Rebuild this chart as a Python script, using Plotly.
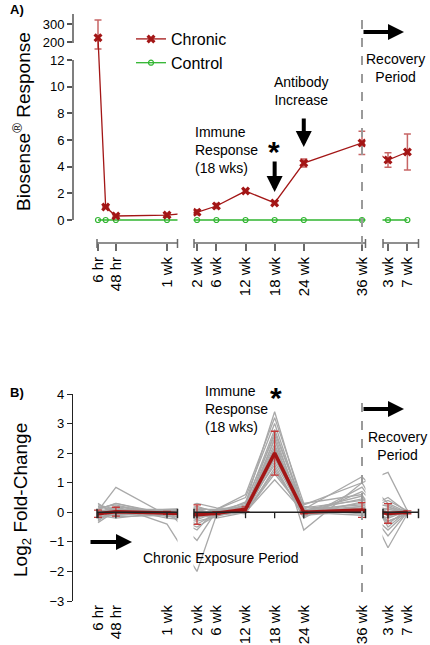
import plotly.graph_objects as go

# ---------------- data ----------------
TIME_LABELS = ["6 hr", "24 hr", "48 hr", "1 wk", "2 wk", "6 wk", "12 wk", "18 wk", "24 wk", "36 wk", "3 wk", "7 wk"]
TIME_PHASE = ["hours", "hours", "hours", "hours", "weeks", "weeks", "weeks", "weeks", "weeks", "weeks", "recovery", "recovery"]
TIME_VALUE = [6, 24, 48, 168, 2, 6, 12, 18, 24, 36, 3, 7]
TICK_LABELS = ["6 hr", "48 hr", "1 wk", "2 wk", "6 wk", "12 wk", "18 wk", "24 wk", "36 wk", "3 wk", "7 wk"]

CHRONIC_MEAN = [224, 0.97, 0.30, 0.37, 0.58, 1.05, 2.17, 1.28, 4.27, 5.78, 4.50, 5.10]
CHRONIC_SE = [98, 0.06, 0.06, 0.08, 0.18, 0.18, 0.10, 0.10, 0.30, 0.87, 0.55, 1.35]
CONTROL_MEAN = [0, 0, 0, 0, 0, 0, 0, 0, 0, 0, 0, 0]

# panel B: time points (no 24 hr)
GENE_LABELS = ["6 hr", "48 hr", "1 wk", "2 wk", "6 wk", "12 wk", "18 wk", "24 wk", "36 wk", "3 wk", "7 wk"]
GENE_PROFILES = [
    [0.05, 0.84, -0.10, 0.00, 0.05, 0.20, 2.10, 0.05, 0.30, 0.10, 0.00],
    [-0.30, 0.20, -0.40, -2.00, -0.10, 0.10, 1.80, 0.00, 0.10, -0.20, 0.05],
    [0.25, 0.10, 0.05, -0.95, 0.05, 0.30, 3.40, 0.10, 1.20, 0.30, 0.00],
    [-0.10, -0.20, 0.00, 0.20, 0.00, 0.05, 2.50, -0.60, 1.00, 1.35, 0.05],
    [0.10, 0.30, -0.05, -0.60, 0.10, 0.60, 3.20, 0.30, 0.60, -1.20, -0.05],
    [-0.20, 0.00, 0.10, 0.10, -0.05, 0.00, 1.10, 0.00, -0.10, 0.00, 0.00],
    [0.00, 0.15, -0.20, -0.30, -0.15, 0.15, 1.60, -0.20, 0.85, -0.40, 0.10],
    [-0.35, 0.05, 0.00, 0.30, 0.15, 0.10, 2.70, 0.15, 0.40, 0.20, -0.10],
    [0.30, -0.10, 0.05, -0.10, -0.20, 0.00, 1.30, 0.05, 0.20, -0.60, 0.00],
    [0.00, 0.20, -0.10, 0.05, 0.00, 0.20, 2.30, -0.10, 0.05, 0.40, 0.05],
    [-0.15, -0.10, 0.00, -0.20, 0.10, 0.50, 3.00, 0.05, 0.55, -0.30, -0.05],
    [0.10, 0.00, -0.05, -0.40, -0.05, 0.05, 1.90, 0.20, 0.00, 0.10, 0.00],
    [-0.05, 0.10, 0.10, 0.15, 0.05, -0.05, 1.50, -0.15, 0.70, -0.15, 0.10],
    [0.15, 0.25, -0.15, -0.15, -0.10, 0.10, 2.00, 0.00, 0.15, 0.25, -0.05],
    [-0.25, 0.00, 0.00, 0.00, 0.00, 0.25, 2.80, 0.10, 0.25, -0.10, 0.00],
    [0.05, -0.15, -0.10, -0.50, -0.10, 0.00, 1.70, -0.05, 0.05, 0.50, 0.00],
    [0.20, 0.05, 0.05, 0.10, 0.10, 0.15, 2.20, 0.25, 1.00, -0.50, 0.05],
    [-0.10, 0.20, 0.00, -0.25, 0.00, 0.00, 1.40, 0.00, 0.10, 0.00, -0.10],
    [0.00, -0.05, -0.05, 0.05, -0.05, 0.35, 2.60, -0.10, 0.35, -0.80, 0.00],
    [-0.05, 0.10, 0.05, -0.10, 0.05, 0.05, 1.85, 0.10, -0.05, 0.15, 0.05],
    [0.10, 0.30, -0.10, 0.00, -0.05, 0.10, 2.45, 0.05, 0.45, 0.00, 0.00],
    [-0.20, -0.05, 0.00, -0.05, 0.00, 0.20, 2.15, -0.05, 0.20, -0.30, -0.05],
]
GENE_MEAN = [-0.05, 0.02, -0.02, -0.08, -0.03, 0.10, 2.00, 0.00, 0.08, -0.04, 0.00]
GENE_SE = [0.12, 0.15, 0.05, 0.33, 0.05, 0.08, 0.74, 0.05, 0.25, 0.33, 0.05]

# ---------------- broken-axis scales (layout) ----------------
W, H = 430, 645
ML, MR, MT, MB = 73, 10, 10, 44
PW, PH = W - ML - MR, H - MT - MB


def xpos(phase, t):
    if phase == "hours":
        return 98 + 0.426 * (t - 6)
    if phase == "weeks":
        return 197 + 4.853 * (t - 2)
    return 388 + 4.85 * (t - 3)


def ybreak(v):
    if v <= 12:
        return v
    if v < 200:
        return 12 + (v - 12) / 188 * 1.35
    return 13.35 + (v - 200) * 0.0135


def py(p):
    return (H - MB - p) / PH


def pxp(p):
    return (p - ML) / PW


label_to_x = {lab: xpos(ph, t) for lab, ph, t in zip(TIME_LABELS, TIME_PHASE, TIME_VALUE)}
X_ALL = [label_to_x[l] for l in TIME_LABELS]
X_TICKS = [label_to_x[l] for l in TICK_LABELS]
X_GENE = [label_to_x[l] for l in GENE_LABELS]

SEGMENTS = [(97, 177.5), (194, 365.5), (383, 418.5)]
GAPS = [(177.5, 193.5), (365.5, 382.5)]

FONT = "Liberation Sans, Arial, sans-serif"
DARKRED = "#a31616"

fig = go.Figure()

# ---- Panel A ----
y_t = [ybreak(v) for v in CHRONIC_MEAN]
err_up = [ybreak(m + s) - ybreak(m) for m, s in zip(CHRONIC_MEAN, CHRONIC_SE)]
err_dn = [ybreak(m) - ybreak(m - s) for m, s in zip(CHRONIC_MEAN, CHRONIC_SE)]

fig.add_trace(go.Scatter(
    x=X_ALL, y=CONTROL_MEAN, mode="lines+markers", name="Control",
    line=dict(color="#2fb52f", width=1.3),
    marker=dict(symbol="circle-open", size=5, color="#2fb52f", line=dict(width=1.2)),
    xaxis="x", yaxis="y", legendrank=2, cliponaxis=False))
fig.add_trace(go.Scatter(
    x=X_ALL, y=y_t, mode="lines+markers", name="Chronic",
    line=dict(color=DARKRED, width=1.3),
    marker=dict(symbol="x", size=8, color=DARKRED),
    error_y=dict(type="data", symmetric=False, array=err_up, arrayminus=err_dn,
                 color="rgba(180,50,50,0.75)", thickness=1.5, width=3.5),
    xaxis="x", yaxis="y", legendrank=1, cliponaxis=False))

# ---- Panel B ----
for prof in GENE_PROFILES:
    fig.add_trace(go.Scatter(
        x=X_GENE, y=prof, mode="lines", showlegend=False,
        line=dict(color="#a9a9a9", width=1.3), hoverinfo="skip",
        xaxis="x2", yaxis="y2"))
fig.add_trace(go.Scatter(
    x=X_GENE, y=GENE_MEAN, mode="lines", showlegend=False,
    line=dict(color=DARKRED, width=3.5),
    error_y=dict(type="data", array=GENE_SE, color="#c43a3a", thickness=1.3, width=4),
    xaxis="x2", yaxis="y2"))

shapes = []
# white gap covers (axis breaks)
for g0, g1 in GAPS:
    for yr in ("y domain", "y2 domain"):
        xr = "x" if yr == "y domain" else "x2"
        shapes.append(dict(type="rect", xref=xr, yref=yr, x0=g0, x1=g1, y0=0, y1=1.02,
                           fillcolor="white", line=dict(width=0), layer="above"))

# top x-axis segments + caps
AX_GRAY = "#6a6a6a"
top_h = (243 - 10)
for s0, s1 in SEGMENTS:
    shapes.append(dict(type="line", xref="x", yref="y domain", x0=s0, x1=s1, y0=0, y1=0,
                       line=dict(color=AX_GRAY, width=1.5), layer="above"))
    for xe in (s0, s1):
        shapes.append(dict(type="line", xref="x", yref="y domain", x0=xe, x1=xe,
                           y0=4 / top_h, y1=-5 / top_h, line=dict(color=AX_GRAY, width=1.5), layer="above"))

# top y-axis (broken)
shapes.append(dict(type="line", xref="paper", yref="y", x0=0, x1=0, y0=0, y1=12,
                   line=dict(color="#555", width=1.5)))
shapes.append(dict(type="line", xref="paper", yref="y", x0=0, x1=0, y0=ybreak(200) - 0.07, y1=15.45,
                   line=dict(color="#555", width=1.5)))

# bottom zero axis segments + ticks
for s0, s1 in SEGMENTS:
    shapes.append(dict(type="line", xref="x2", yref="y2", x0=s0, x1=s1, y0=0, y1=0,
                       line=dict(color="#222", width=1.5), layer="above"))
    for xe in (s0, s1):
        shapes.append(dict(type="line", xref="x2", yref="y2", x0=xe, x1=xe, y0=0.12, y1=-0.2,
                           line=dict(color="#222", width=1.5), layer="above"))
for xt in X_TICKS:
    shapes.append(dict(type="line", xref="x2", yref="y2", x0=xt, x1=xt, y0=0, y1=-0.2,
                       line=dict(color="#222", width=1.3), layer="above"))

# dashed recovery lines at 36 wk
x36 = label_to_x["36 wk"]
shapes.append(dict(type="line", xref="x", yref="paper", x0=x36, x1=x36, y0=py(245), y1=py(12),
                   line=dict(color="#9a9a9a", width=2, dash="dash"), layer="above"))
shapes.append(dict(type="line", xref="x2", yref="paper", x0=x36, x1=x36, y0=py(592), y1=py(397),
                   line=dict(color="#9a9a9a", width=2, dash="dash"), layer="above"))

ann = []


def text(x, y, t, size=14, xanchor="center", align="center", angle=0, xref="x"):
    ann.append(dict(x=x, y=py(y), xref=xref, yref="paper", text=t, showarrow=False,
                    xanchor=xanchor, yanchor="middle", align=align, textangle=angle,
                    font=dict(family=FONT, size=size, color="black")))


def arrow(x, y, ax, ay):
    ann.append(dict(x=x, y=py(y), xref="x", yref="paper", ax=ax, ay=ay, text="",
                    showarrow=True, arrowhead=2, arrowsize=0.8, arrowwidth=4, arrowcolor="black"))


text(pxp(8), 9, "<b>A)</b>", size=13, xanchor="left", xref="paper")
text(pxp(8), 392, "<b>B)</b>", size=13, xanchor="left", xref="paper")
text(pxp(22), 122, "Biosense<sup>®</sup> Response", size=19, angle=-90, xref="paper")
text(pxp(22), 500, "Log<sub>2</sub> Fold-Change", size=19, angle=-90, xref="paper")

x18 = label_to_x["18 wk"]
x24 = label_to_x["24 wk"]
text(193, 150, "Immune<br>Response<br>(18 wks)", xanchor="left", align="left")
text(x18 - 1, 151, "<b>*</b>", size=30)
arrow(x18, 192, 0, -32)
text(301, 91, "Antibody<br>Increase")
arrow(x24, 147, 0, -30)
arrow(404, 32, -42, 0)
text(395, 67.5, "Recovery<br>Period")

text(203, 409, "Immune<br>Response<br>(18 wks)", xanchor="left", align="left")
text(x18 + 1, 397, "<b>*</b>", size=30)
arrow(404, 409, -42, 0)
text(397, 446, "Recovery<br>Period")
arrow(132, 542, -43, 0)
text(141, 558, "Chronic Exposure Period", xanchor="left")

fig.update_layout(
    width=W, height=H, margin=dict(l=ML, r=MR, t=MT, b=MB),
    paper_bgcolor="white", plot_bgcolor="white",
    font=dict(family=FONT, color="black"),
    showlegend=True,
    legend=dict(x=pxp(131), y=py(22), xanchor="left", yanchor="top", bgcolor="rgba(0,0,0,0)",
                font=dict(family=FONT, size=16), itemwidth=30, tracegroupgap=0),
    xaxis=dict(domain=[0, 1], range=[ML, W - MR], anchor="y", tickvals=X_TICKS, ticktext=TICK_LABELS,
               tickangle=-90, ticks="outside", ticklen=7, tickwidth=1.5, tickcolor=AX_GRAY,
               showline=False, showgrid=False, zeroline=False, automargin=False,
               tickfont=dict(family=FONT, size=15)),
    yaxis=dict(domain=[py(243), py(10)], range=[(220 - 243) / 13.333, (220 - 10) / 13.333], anchor="x",
               tickvals=[0, 2, 4, 6, 8, 10, 12, ybreak(200), ybreak(300)],
               ticktext=["0", "2", "4", "6", "8", "10", "12", "200", "300"],
               ticks="outside", ticklen=5, tickwidth=1.5, tickcolor="#555",
               showline=False, showgrid=False, zeroline=False, automargin=False,
               tickfont=dict(family=FONT, size=13)),
    xaxis2=dict(domain=[0, 1], range=[ML, W - MR], anchor="y2", tickvals=X_TICKS, ticktext=TICK_LABELS,
                tickangle=-90, ticks="", showline=False, showgrid=False, zeroline=False,
                automargin=False, tickfont=dict(family=FONT, size=15)),
    yaxis2=dict(domain=[0, py(394)], range=[-3, 4], anchor="x2", tickvals=list(range(-3, 5)),
                ticks="outside", ticklen=5, tickwidth=1.3, tickcolor="#222",
                showline=True, linecolor="#222", linewidth=1.3,
                showgrid=False, zeroline=False, automargin=False,
                tickfont=dict(family=FONT, size=13)),
    shapes=shapes, annotations=ann,
)

fig.write_html("out.html", config={"displayModeBar": False},
               post_script="document.body.style.margin='0px';")
